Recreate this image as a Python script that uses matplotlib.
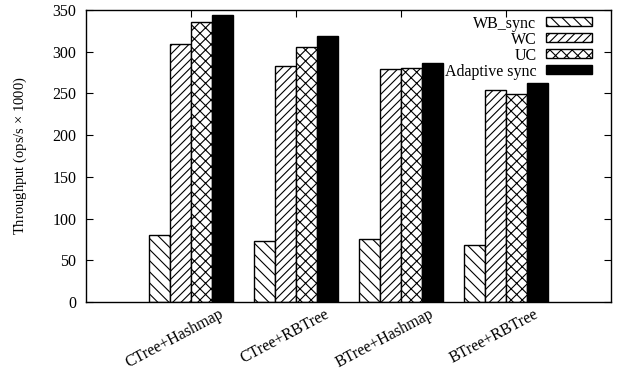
import numpy as np
import matplotlib
matplotlib.use('Agg')
import matplotlib.pyplot as plt
import matplotlib.transforms as mtransforms

plt.rcParams['font.family'] = 'Liberation Serif'
plt.rcParams['mathtext.fontset'] = 'custom'
plt.rcParams['mathtext.rm'] = 'Liberation Serif'
plt.rcParams['hatch.linewidth'] = 0.8

# =============================================================================
# DATA
# =============================================================================

workloads = ['CTree+Hashmap', 'CTree+RBTree', 'BTree+Hashmap', 'BTree+RBTree']
series = ['WB_sync', 'WC', 'UC', 'Adaptive sync']
wb_sync = [80, 73, 75, 68]
wc = [309, 283, 279, 254]
uc = [336, 306, 280, 249]
adaptive = [344, 319, 287, 262]
yticks = [0, 50, 100, 150, 200, 250, 300, 350]

# =============================================================================
# PLOT
# =============================================================================

fig = plt.figure(figsize=(6.24, 3.75), dpi=100)
ax = fig.add_axes([0.1378, 0.1947, 0.979 - 0.1378, 0.9733 - 0.1947])

x = np.arange(len(workloads))
width = 0.2
styles = [dict(facecolor='white', hatch='\\\\\\'),
          dict(facecolor='white', hatch='////'),
          dict(facecolor='white', hatch='xxx'),
          dict(facecolor='black', hatch=None)]
values = [wb_sync, wc, uc, adaptive]

for i, (name, vals, st) in enumerate(zip(series, values, styles)):
    ax.bar(x + (i - 1.5) * width, vals, width, label=name,
           edgecolor='black', linewidth=1.0, zorder=2, **st)

ax.set_xlim(-1, 4)
ax.set_ylim(0, 350)
ax.set_yticks(yticks)
ax.set_xticks(x)
ax.set_xticklabels([])

# rotated category labels, shifted right like gnuplot's
offset = mtransforms.ScaledTranslation(28 / 100, -4 / 100, fig.dpi_scale_trans)
for xi, name in zip(x, workloads):
    ax.text(xi, 0, name, transform=ax.get_xaxis_transform() + offset,
            rotation=28, ha='right', va='top', rotation_mode='anchor',
            fontsize=11.5)

ax.tick_params(axis='both', direction='in', length=5, width=0.8,
               top=True, right=True, labelsize=11.5)
ax.tick_params(axis='y', pad=7)
for sp in ax.spines.values():
    sp.set_linewidth(1.0)
    sp.set_zorder(3)

ax.set_ylabel(r'Throughput (ops/s $\times$ 1000)', fontsize=10.5, labelpad=17)

ax.legend(loc='upper right', frameon=False, markerfirst=False,
          fontsize=11.5, handlelength=2.9, handleheight=0.5,
          labelspacing=0.0, borderaxespad=0.0, handletextpad=0.6,
          bbox_to_anchor=(0.977, 1.003))

fig.savefig('out.png', dpi=100)
